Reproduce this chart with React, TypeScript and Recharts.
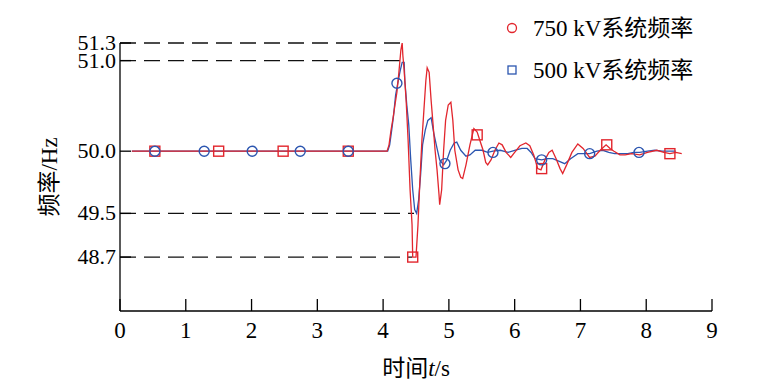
import React from 'react';
import { ComposedChart, Line, Scatter, XAxis, YAxis, ReferenceLine, Legend } from 'recharts';

// ---- axis description (the original figure uses an uneven frequency axis) ----
const xTicks = [0, 1, 2, 3, 4, 5, 6, 7, 8, 9];
const yTickHz = [48.7, 49.5, 50.0, 51.0, 51.3];
const yTickLabels = ['48.7', '49.5', '50.0', '51.0', '51.3'];
const yTickAxisPos = [54, 97.7, 160, 250.7, 268.3];
const yAxisTop = 268.3;

// ---- 750 kV system frequency (red) ----
const redTime = [0.18, 4.06, 4.09, 4.12, 4.15, 4.18, 4.21, 4.24, 4.27, 4.29, 4.30, 4.32, 4.35, 4.38, 4.41, 4.44, 4.45, 4.50, 4.53, 4.56, 4.59, 4.62, 4.65, 4.67, 4.70, 4.73, 4.76, 4.79, 4.82, 4.85, 4.86, 4.89, 4.92, 4.95, 4.99, 5.03, 5.06, 5.09, 5.14, 5.18, 5.21, 5.26, 5.32, 5.38, 5.43, 5.47, 5.52, 5.56, 5.59, 5.64, 5.70, 5.76, 5.81, 5.87, 5.94, 6.00, 6.08, 6.17, 6.23, 6.29, 6.35, 6.40, 6.46, 6.52, 6.57, 6.63, 6.69, 6.73, 6.79, 6.87, 6.96, 7.04, 7.14, 7.22, 7.30, 7.39, 7.45, 7.51, 7.60, 7.68, 7.78, 7.90, 8.02, 8.16, 8.27, 8.36, 8.45, 8.54];
const redFreq = [50.00, 50.00, 50.07, 50.23, 50.36, 50.51, 50.65, 50.87, 51.18, 51.30, 51.09, 50.89, 50.56, 50.12, 49.69, 49.29, 48.70, 48.70, 49.29, 49.77, 50.12, 50.45, 50.78, 50.92, 50.87, 50.56, 50.29, 50.01, 49.85, 49.65, 49.57, 49.69, 50.01, 50.34, 50.51, 50.54, 50.34, 50.01, 49.85, 49.79, 49.78, 49.89, 50.07, 50.25, 50.21, 50.12, 50.01, 49.91, 49.89, 49.93, 50.01, 50.09, 50.07, 49.99, 49.95, 49.99, 50.06, 50.09, 50.06, 49.97, 49.86, 49.85, 49.93, 49.99, 50.01, 49.94, 49.86, 49.82, 49.89, 49.99, 50.08, 50.03, 49.95, 49.96, 50.01, 50.07, 50.03, 50.00, 49.97, 49.97, 49.98, 49.97, 49.99, 50.01, 49.99, 49.98, 49.99, 49.98];

// ---- 500 kV system frequency (blue) ----
const blueTime = [0.18, 4.07, 4.10, 4.13, 4.16, 4.19, 4.23, 4.26, 4.29, 4.32, 4.33, 4.36, 4.39, 4.42, 4.45, 4.48, 4.51, 4.54, 4.57, 4.60, 4.64, 4.68, 4.73, 4.77, 4.82, 4.86, 4.92, 4.97, 5.02, 5.08, 5.12, 5.18, 5.26, 5.32, 5.40, 5.50, 5.59, 5.67, 5.78, 5.90, 6.00, 6.11, 6.19, 6.25, 6.31, 6.41, 6.50, 6.58, 6.67, 6.76, 6.85, 6.96, 7.07, 7.14, 7.25, 7.34, 7.43, 7.52, 7.63, 7.72, 7.81, 7.90, 8.02, 8.13, 8.24, 8.36, 8.45];
const blueFreq = [50.00, 50.00, 50.07, 50.23, 50.40, 50.62, 50.78, 50.89, 50.98, 50.98, 50.78, 50.51, 50.29, 49.93, 49.69, 49.53, 49.50, 49.61, 49.81, 50.07, 50.23, 50.34, 50.37, 50.20, 50.03, 49.93, 49.89, 49.93, 50.01, 50.09, 50.10, 50.01, 49.96, 49.97, 50.01, 50.01, 49.99, 50.00, 50.01, 49.99, 50.01, 50.03, 50.03, 49.99, 49.94, 49.93, 49.94, 49.94, 49.92, 49.90, 49.94, 49.98, 49.98, 49.98, 50.00, 50.01, 49.99, 49.98, 49.98, 49.98, 49.99, 49.99, 50.00, 50.01, 50.00, 50.00, 50.00];

// ---- markers ----
const redMarkTime = [0.53, 1.50, 2.48, 3.47, 4.45, 5.43, 6.41, 7.40, 8.36];
const redMarkFreq = [50.00, 50.00, 50.00, 50.00, 48.70, 50.18, 49.86, 50.07, 49.98];
const blueMarkTime = [0.53, 1.28, 2.01, 2.74, 3.47, 4.21, 4.94, 5.67, 6.41, 7.14, 7.89];
const blueMarkFreq = [50.00, 50.00, 50.00, 50.00, 50.00, 50.75, 49.90, 49.99, 49.93, 49.98, 49.99];

// ---- dashed guide lines (level, end time) ----
const guideHz = [51.3, 51.0, 49.5, 48.7];
const guideEnd = [4.29, 4.28, 4.47, 4.44];

const legendNames = ['750 kV系统频率', '500 kV系统频率'];

const RED = '#e2262d';
const BLUE = '#2c56b0';
const FONT = "'Liberation Serif', 'DejaVu Serif', 'Noto Sans CJK SC', serif";
const textStyle: React.CSSProperties = { fontFamily: FONT, fontSize: 23, fill: '#000' };
const tickStyle: React.CSSProperties = { fontFamily: FONT, fontSize: 22, fill: '#000' };

function toAxis(hz: number): number {
  const a = yTickHz, p = yTickAxisPos;
  let i = 0;
  if (hz <= a[0]) i = 0;
  else if (hz >= a[a.length - 1]) i = a.length - 2;
  else { while (i < a.length - 2 && hz > a[i + 1]) i++; }
  return p[i] + (hz - a[i]) * (p[i + 1] - p[i]) / (a[i + 1] - a[i]);
}

const zip = (ts: number[], fs: number[]) => ts.map((t, i) => ({ t, u: toAxis(fs[i]), hz: fs[i] }));
const redData = zip(redTime, redFreq);
const blueData = zip(blueTime, blueFreq);
const redMarks = zip(redMarkTime, redMarkFreq);
const blueMarks = zip(blueMarkTime, blueMarkFreq);

const XTick = (props: any) => {
  const { x, y, payload } = props;
  return (
    <g>
      <line x1={x} x2={x} y1={y} y2={y - 12} stroke="#000" strokeWidth={1.3} />
      <text x={x} y={y + 27} textAnchor="middle" style={textStyle}>{payload.value}</text>
    </g>
  );
};

const YTick = (props: any) => {
  const { x, y, payload } = props;
  const idx = yTickAxisPos.findIndex((v) => Math.abs(v - payload.value) < 0.01);
  const label = idx >= 0 ? yTickLabels[idx] : '';
  return (
    <g>
      <line x1={x} x2={x + 11} y1={y} y2={y} stroke="#000" strokeWidth={1.3} />
      <text x={x - 4} y={y + 7} textAnchor="end" style={tickStyle}>{label}</text>
    </g>
  );
};

const Square = (props: any) => {
  const { cx, cy } = props;
  return <rect x={cx - 5} y={cy - 5} width={10} height={10} fill="none" stroke={RED} strokeWidth={1.4} />;
};
const Circle = (props: any) => {
  const { cx, cy } = props;
  return <circle cx={cx} cy={cy} r={5} fill="none" stroke={BLUE} strokeWidth={1.4} />;
};

const LegendBox = () => (
  <svg width={270} height={95} style={{ display: 'block' }}>
    <circle cx={12} cy={28} r={4.5} fill="none" stroke={RED} strokeWidth={1.3} />
    <text x={33} y={36} style={textStyle}>{legendNames[0]}</text>
    <rect x={8} y={66} width={8} height={8} fill="none" stroke={BLUE} strokeWidth={1.3} />
    <text x={33} y={78} style={textStyle}>{legendNames[1]}</text>
  </svg>
);

const XTitle = (props: any) => {
  const vb = props.viewBox || {};
  const cx = vb.x + vb.width / 2;
  return (
    <text x={cx} y={vb.y + 65} textAnchor="middle" style={textStyle}>
      时间<tspan style={{ fontStyle: 'italic' }}>t</tspan>/s
    </text>
  );
};

const YTitle = (props: any) => {
  const vb = props.viewBox || {};
  const cx = vb.x - 3;
  const cy = vb.y + vb.height / 2;
  return (
    <text x={cx} y={cy} textAnchor="middle" style={textStyle} transform={`rotate(-90, ${cx}, ${cy})`}>
      频率/Hz
    </text>
  );
};

export default function App() {
  return (
    <div style={{ position: 'absolute', left: 0, top: 0, width: 782, height: 389, background: '#fff' }}>
      <ComposedChart width={782} height={389} margin={{ top: 43, right: 70, bottom: 48, left: 60 }}>
        <XAxis
          type="number"
          dataKey="t"
          domain={[0, 9]}
          ticks={xTicks}
          interval={0}
          allowDataOverflow
          tick={<XTick />}
          tickLine={false}
          tickSize={0}
          tickMargin={0}
          height={30}
          axisLine={{ stroke: '#000', strokeWidth: 1.3 }}
          label={<XTitle />}
        />
        <YAxis
          type="number"
          dataKey="u"
          domain={[0, yAxisTop]}
          ticks={yTickAxisPos}
          interval={0}
          allowDataOverflow
          tick={<YTick />}
          tickLine={false}
          tickSize={0}
          tickMargin={0}
          width={60}
          axisLine={{ stroke: '#000', strokeWidth: 1.3 }}
          label={<YTitle />}
        />
        {guideHz.map((hz, i) => (
          <ReferenceLine
            key={hz}
            segment={[{ x: 0, y: toAxis(hz) }, { x: guideEnd[i], y: toAxis(hz) }]}
            stroke="#111"
            strokeWidth={1.3}
            strokeDasharray="16 8"
          />
        ))}
        <Line data={blueData} dataKey="u" type="linear" stroke={BLUE} strokeWidth={1.3} dot={false} isAnimationActive={false} />
        <Line data={redData} dataKey="u" type="linear" stroke={RED} strokeWidth={1.3} dot={false} isAnimationActive={false} />
        <Scatter data={redMarks} dataKey="u" shape={<Square />} isAnimationActive={false} />
        <Scatter data={blueMarks} dataKey="u" shape={<Circle />} isAnimationActive={false} />
        <Legend
          layout="vertical"
          align="center"
          verticalAlign="middle"
          content={<LegendBox />}
          wrapperStyle={{ position: 'absolute', left: 500, top: 0, width: 270, height: 95 }}
        />
      </ComposedChart>
    </div>
  );
}
